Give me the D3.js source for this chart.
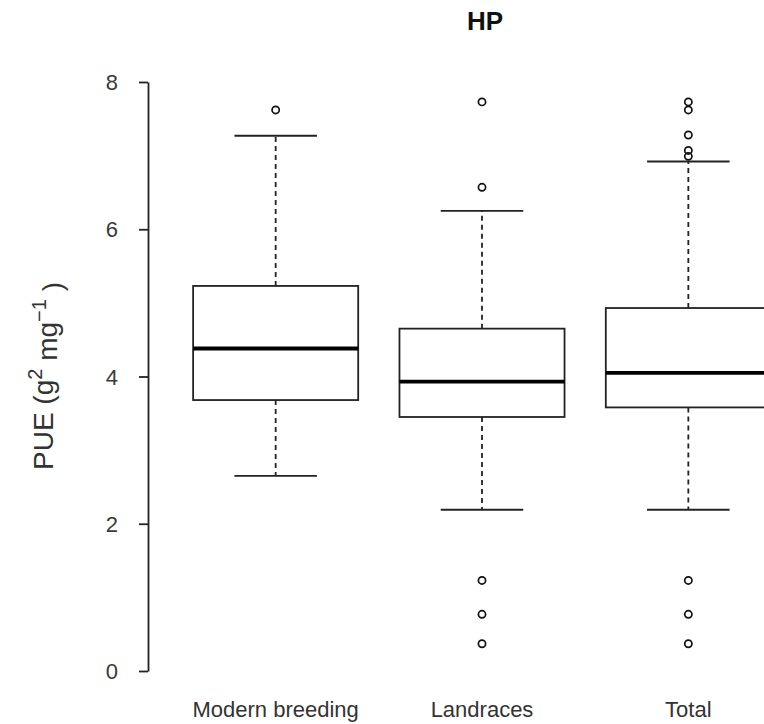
<!DOCTYPE html>
<html>
<head>
<meta charset="utf-8">
<script src="https://cdn.jsdelivr.net/npm/d3@7"></script>
<style>
  body { margin: 0; background: #fff; }
  text { font-family: "Liberation Sans", Arial, sans-serif; }
</style>
</head>
<body>
<div id="chart"></div>
<script>
// values
var groups = ["Modern breeding", "Landraces", "Total"];
var lowerWhisker = [2.65, 2.19, 2.19];
var q1 = [3.68, 3.45, 3.58];
var medians = [4.38, 3.93, 4.05];
var q3 = [5.23, 4.65, 4.93];
var upperWhisker = [7.27, 6.25, 6.92];
var outliers = [
	[7.62],
	[7.73, 6.57, 1.23, 0.77, 0.37],
	[7.73, 7.62, 7.28, 7.07, 6.99, 1.23, 0.77, 0.37]
];
var yTicks = [0, 2, 4, 6, 8];

var width = 764,
	height = 724;

var svg = d3.select("#chart")
  .append("svg")
	.attr("width", width)
	.attr("height", height);

// R style: groups at 1..3, xlim 0.5..3.5 (right part falls off the picture)
var x = d3.scaleBand()
	.domain(groups)
	.range([172.5, 791.5])
	.paddingInner(0)
	.paddingOuter(0);

var y = d3.scaleLinear()
	.domain([0, 8])
	.range([671, 82]);

var boxW = x.bandwidth() * 0.8,
	capW = boxW / 2;

// y axis
var yAxis = svg.append("g")
	.attr("transform", "translate(148,0)")
	.call(d3.axisLeft(y)
		.tickValues(yTicks)
		.tickSize(9)
		.tickPadding(21)
		.tickSizeOuter(0)
		.tickFormat(d3.format("d")));
yAxis.select(".domain").attr("stroke", "#222").attr("stroke-width", 1.8);
yAxis.selectAll(".tick line").attr("stroke", "#222").attr("stroke-width", 1.8);
yAxis.selectAll(".tick text")
	.attr("fill", "#3a3a3a")
	.style("font-size", "22px")
	.attr("dy", "0.35em");

var data = groups.map(function(g, i) {
	return {name: g, lo: lowerWhisker[i], q1: q1[i], med: medians[i],
			q3: q3[i], hi: upperWhisker[i], out: outliers[i]};
});

var boxes = svg.selectAll(".box")
	.data(data)
	.enter()
	.append("g")
	.attr("class", "box")
	.attr("transform", function(d) { return "translate(" + (x(d.name) + x.bandwidth() / 2) + ",0)"; });

// dashed whiskers
boxes.append("line")
	.attr("x1", 0).attr("x2", 0)
	.attr("y1", function(d) { return y(d.q3); })
	.attr("y2", function(d) { return y(d.hi); })
	.attr("stroke", "#222").attr("stroke-width", 1.8)
	.attr("stroke-dasharray", "5,4");
boxes.append("line")
	.attr("x1", 0).attr("x2", 0)
	.attr("y1", function(d) { return y(d.q1); })
	.attr("y2", function(d) { return y(d.lo); })
	.attr("stroke", "#222").attr("stroke-width", 1.8)
	.attr("stroke-dasharray", "5,4");

// whisker caps
boxes.selectAll(".cap")
	.data(function(d) { return [d.lo, d.hi]; })
	.enter()
	.append("line")
	.attr("x1", -capW / 2).attr("x2", capW / 2)
	.attr("y1", function(v) { return y(v); })
	.attr("y2", function(v) { return y(v); })
	.attr("stroke", "#222").attr("stroke-width", 1.8);

// box
boxes.append("rect")
	.attr("x", -boxW / 2)
	.attr("width", boxW)
	.attr("y", function(d) { return y(d.q3); })
	.attr("height", function(d) { return y(d.q1) - y(d.q3); })
	.attr("fill", "white")
	.attr("stroke", "#222").attr("stroke-width", 1.8);

// median
boxes.append("line")
	.attr("x1", -boxW / 2).attr("x2", boxW / 2)
	.attr("y1", function(d) { return y(d.med); })
	.attr("y2", function(d) { return y(d.med); })
	.attr("stroke", "#000").attr("stroke-width", 3.8);

// outliers
boxes.selectAll(".out")
	.data(function(d) { return d.out; })
	.enter()
	.append("circle")
	.attr("cx", 0)
	.attr("cy", function(v) { return y(v); })
	.attr("r", 3.6)
	.attr("fill", "none")
	.attr("stroke", "#111").attr("stroke-width", 1.7);

// group labels
svg.selectAll(".glabel")
	.data(groups)
	.enter()
	.append("text")
	.attr("x", function(d) { return x(d) + x.bandwidth() / 2; })
	.attr("y", 717)
	.attr("text-anchor", "middle")
	.attr("fill", "#333")
	.style("font-size", "22px")
	.text(function(d) { return d; });

// title
svg.append("text")
	.attr("x", 485)
	.attr("y", 30)
	.attr("text-anchor", "middle")
	.style("font-size", "26px")
	.style("font-weight", "bold")
	.attr("fill", "#111")
	.text("HP");

// y label with superscripts
var ylab = svg.append("text")
	.attr("transform", "translate(53,376) rotate(-90)")
	.attr("text-anchor", "middle")
	.attr("fill", "#333")
	.style("font-size", "28px");
ylab.append("tspan").text("PUE (g");
ylab.append("tspan").attr("dy", "-0.55em").style("font-size", "20px").text("2");
ylab.append("tspan").attr("dy", "0.55em").text("  mg");
ylab.append("tspan").attr("dy", "-0.55em").style("font-size", "20px").text("\u22121");
ylab.append("tspan").attr("dy", "0.55em").text("  )");
</script>
</body>
</html>
